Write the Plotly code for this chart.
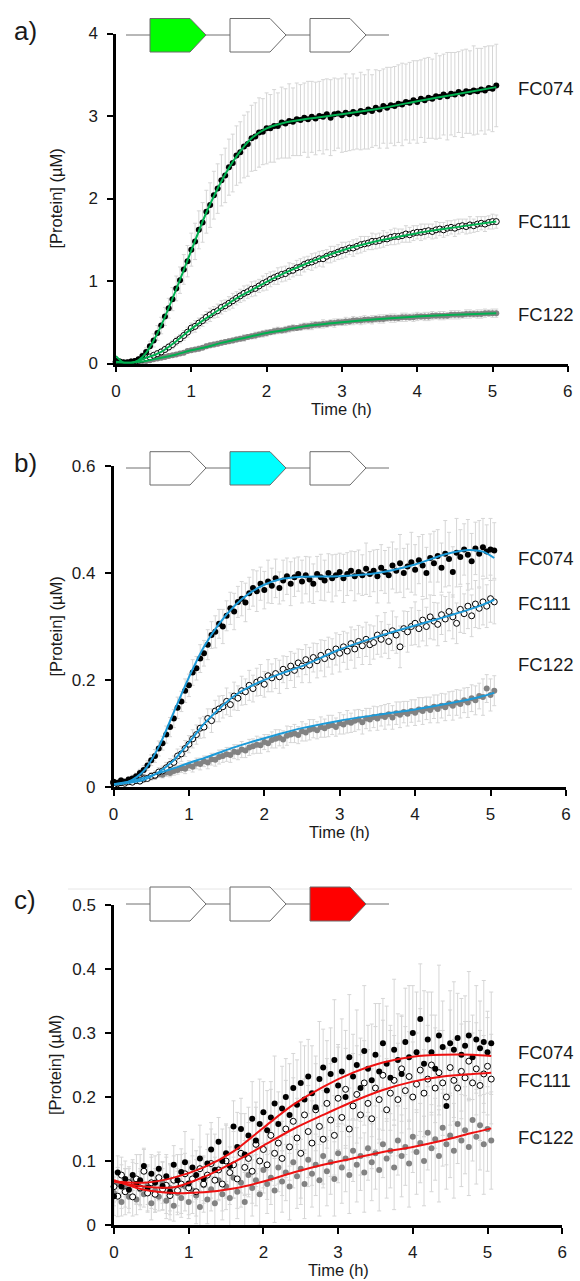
import plotly.graph_objects as go

# ---------------- data ----------------
TIME = [0.00, 0.05, 0.10, 0.15, 0.20, 0.25, 0.30, 0.35, 0.40, 0.45,
        0.50, 0.55, 0.60, 0.65, 0.70, 0.75, 0.80, 0.85, 0.90, 0.95,
        1.00, 1.05, 1.10, 1.15, 1.20, 1.25, 1.30, 1.35, 1.40, 1.45,
        1.50, 1.55, 1.60, 1.65, 1.70, 1.75, 1.80, 1.85, 1.90, 1.95,
        2.00, 2.05, 2.10, 2.15, 2.20, 2.25, 2.30, 2.35, 2.40, 2.45,
        2.50, 2.55, 2.60, 2.65, 2.70, 2.75, 2.80, 2.85, 2.90, 2.95,
        3.00, 3.05, 3.10, 3.15, 3.20, 3.25, 3.30, 3.35, 3.40, 3.45,
        3.50, 3.55, 3.60, 3.65, 3.70, 3.75, 3.80, 3.85, 3.90, 3.95,
        4.00, 4.05, 4.10, 4.15, 4.20, 4.25, 4.30, 4.35, 4.40, 4.45,
        4.50, 4.55, 4.60, 4.65, 4.70, 4.75, 4.80, 4.85, 4.90, 4.95,
        5.00, 5.05]

SERIES = ["FC074", "FC111", "FC122"]

# panel a (green protein)
A_FC074 = [0.03, 0.02, 0.01, 0.01, 0.02, 0.03, 0.05, 0.09, 0.14, 0.21,
           0.28, 0.37, 0.46, 0.57, 0.67, 0.78, 0.91, 1.01, 1.14, 1.24,
           1.38, 1.48, 1.62, 1.71, 1.84, 1.92, 2.04, 2.12, 2.22, 2.28,
           2.38, 2.43, 2.52, 2.56, 2.63, 2.66, 2.73, 2.75, 2.80, 2.81,
           2.85, 2.85, 2.88, 2.88, 2.92, 2.91, 2.94, 2.93, 2.96, 2.95,
           2.98, 2.96, 2.99, 2.97, 3.00, 2.99, 3.02, 2.98, 3.02, 3.03,
           3.01, 3.04, 3.02, 3.05, 3.03, 3.06, 3.05, 3.08, 3.06, 3.10,
           3.08, 3.12, 3.10, 3.13, 3.12, 3.15, 3.14, 3.17, 3.16, 3.19,
           3.17, 3.21, 3.19, 3.22, 3.21, 3.24, 3.23, 3.26, 3.24, 3.27,
           3.26, 3.29, 3.27, 3.30, 3.29, 3.31, 3.30, 3.32, 3.31, 3.34,
           3.33, 3.37]
A_FC111 = [0.02, 0.02, 0.01, 0.01, 0.02, 0.02, 0.04, 0.05, 0.07, 0.08,
           0.10, 0.12, 0.14, 0.17, 0.20, 0.23, 0.27, 0.30, 0.34, 0.38,
           0.43, 0.45, 0.49, 0.52, 0.56, 0.59, 0.62, 0.64, 0.68, 0.70,
           0.73, 0.76, 0.79, 0.82, 0.85, 0.87, 0.90, 0.91, 0.94, 0.97,
           0.99, 1.02, 1.04, 1.06, 1.08, 1.09, 1.12, 1.13, 1.16, 1.17,
           1.20, 1.22, 1.23, 1.25, 1.27, 1.27, 1.30, 1.32, 1.33, 1.35,
           1.37, 1.38, 1.40, 1.40, 1.42, 1.44, 1.45, 1.46, 1.48, 1.48,
           1.49, 1.51, 1.51, 1.53, 1.54, 1.54, 1.55, 1.57, 1.56, 1.58,
           1.59, 1.59, 1.60, 1.61, 1.60, 1.62, 1.63, 1.62, 1.64, 1.65,
           1.64, 1.66, 1.67, 1.66, 1.68, 1.67, 1.69, 1.70, 1.69, 1.71,
           1.72, 1.72]
A_FC122 = [0.01, 0.01, 0.01, 0.01, 0.01, 0.02, 0.02, 0.03, 0.03, 0.04,
           0.05, 0.06, 0.07, 0.08, 0.09, 0.10, 0.11, 0.12, 0.13, 0.15,
           0.16, 0.17, 0.18, 0.19, 0.21, 0.22, 0.23, 0.24, 0.25, 0.26,
           0.27, 0.28, 0.29, 0.30, 0.31, 0.32, 0.33, 0.34, 0.35, 0.36,
           0.37, 0.38, 0.39, 0.40, 0.40, 0.41, 0.42, 0.43, 0.43, 0.44,
           0.45, 0.45, 0.46, 0.47, 0.47, 0.48, 0.48, 0.49, 0.49, 0.50,
           0.50, 0.51, 0.51, 0.52, 0.52, 0.52, 0.53, 0.53, 0.53, 0.54,
           0.54, 0.54, 0.55, 0.55, 0.55, 0.55, 0.56, 0.56, 0.56, 0.56,
           0.57, 0.57, 0.57, 0.57, 0.58, 0.58, 0.58, 0.58, 0.58, 0.59,
           0.59, 0.59, 0.59, 0.60, 0.60, 0.60, 0.60, 0.60, 0.61, 0.61,
           0.61, 0.61]
A_ERR074 = [0.02, 0.02, 0.02, 0.02, 0.02, 0.03, 0.03, 0.04, 0.05, 0.06,
            0.08, 0.09, 0.10, 0.11, 0.12, 0.14, 0.15, 0.16, 0.18, 0.19,
            0.20, 0.22, 0.23, 0.24, 0.26, 0.27, 0.29, 0.30, 0.31, 0.33,
            0.34, 0.35, 0.36, 0.37, 0.38, 0.39, 0.40, 0.41, 0.42, 0.40,
            0.43, 0.41, 0.44, 0.40, 0.43, 0.42, 0.45, 0.41, 0.44, 0.43,
            0.42, 0.46, 0.43, 0.44, 0.42, 0.45, 0.43, 0.46, 0.44, 0.42,
            0.45, 0.47, 0.44, 0.46, 0.43, 0.47, 0.45, 0.48, 0.44, 0.46,
            0.47, 0.45, 0.49, 0.46, 0.48, 0.47, 0.50, 0.46, 0.49, 0.48,
            0.50, 0.47, 0.51, 0.49, 0.48, 0.52, 0.50, 0.49, 0.53, 0.50,
            0.51, 0.49, 0.53, 0.51, 0.50, 0.54, 0.52, 0.50, 0.53, 0.51,
            0.52, 0.50]
A_ERR111 = [0.01, 0.01, 0.01, 0.01, 0.01, 0.01, 0.02, 0.02, 0.02, 0.03,
            0.03, 0.03, 0.04, 0.04, 0.04, 0.05, 0.05, 0.05, 0.06, 0.06,
            0.06, 0.07, 0.06, 0.07, 0.07, 0.08, 0.07, 0.08, 0.08, 0.07,
            0.08, 0.09, 0.08, 0.08, 0.09, 0.08, 0.09, 0.09, 0.08, 0.09,
            0.10, 0.09, 0.08, 0.10, 0.09, 0.09, 0.10, 0.08, 0.09, 0.10,
            0.09, 0.08, 0.10, 0.09, 0.09, 0.10, 0.08, 0.10, 0.09, 0.09,
            0.10, 0.09, 0.08, 0.10, 0.09, 0.10, 0.09, 0.08, 0.10, 0.09,
            0.09, 0.10, 0.08, 0.09, 0.10, 0.09, 0.08, 0.10, 0.09, 0.09,
            0.08, 0.10, 0.09, 0.08, 0.09, 0.10, 0.08, 0.09, 0.09, 0.08,
            0.10, 0.09, 0.08, 0.09, 0.10, 0.08, 0.09, 0.08, 0.09, 0.08,
            0.09, 0.08]
A_ERR122 = [0.01, 0.01, 0.01, 0.01, 0.01, 0.01, 0.01, 0.01, 0.01, 0.01,
            0.01, 0.01, 0.02, 0.02, 0.02, 0.02, 0.02, 0.02, 0.02, 0.02,
            0.02, 0.02, 0.03, 0.02, 0.03, 0.03, 0.03, 0.03, 0.03, 0.03,
            0.03, 0.03, 0.03, 0.03, 0.04, 0.03, 0.03, 0.04, 0.03, 0.04,
            0.04, 0.03, 0.04, 0.04, 0.03, 0.04, 0.04, 0.04, 0.03, 0.04,
            0.04, 0.04, 0.05, 0.04, 0.04, 0.05, 0.04, 0.04, 0.05, 0.04,
            0.04, 0.05, 0.04, 0.05, 0.04, 0.05, 0.05, 0.04, 0.05, 0.04,
            0.05, 0.05, 0.04, 0.05, 0.05, 0.04, 0.05, 0.05, 0.04, 0.05,
            0.05, 0.04, 0.05, 0.05, 0.05, 0.04, 0.05, 0.05, 0.04, 0.05,
            0.05, 0.05, 0.04, 0.05, 0.05, 0.04, 0.05, 0.05, 0.05, 0.04,
            0.05, 0.05]
A_FIT_T = [0, 0.1, 0.2, 0.3, 0.4, 0.5, 0.6, 0.8, 1.0, 1.2, 1.4, 1.6, 1.8,
           2.0, 2.2, 2.5, 3.0, 3.5, 4.0, 4.5, 5.05]
A_FIT074 = [0.09, 0.01, 0.00, 0.04, 0.13, 0.28, 0.46, 0.90, 1.37, 1.83, 2.21,
            2.51, 2.73, 2.85, 2.91, 2.96, 3.02, 3.09, 3.18, 3.26, 3.35]
A_FIT111 = [0.02, 0.01, 0.01, 0.03, 0.07, 0.10, 0.14, 0.27, 0.42, 0.55, 0.67,
            0.79, 0.89, 0.99, 1.08, 1.20, 1.37, 1.49, 1.58, 1.65, 1.72]
A_FIT122 = [0.01, 0.01, 0.01, 0.02, 0.03, 0.05, 0.07, 0.11, 0.16, 0.20, 0.25,
            0.29, 0.33, 0.37, 0.40, 0.45, 0.50, 0.54, 0.57, 0.59, 0.61]

# panel b (cyan protein)
B_FC074 = [0.010, 0.008, 0.012, 0.010, 0.014, 0.016, 0.020, 0.026, 0.032, 0.040,
           0.050, 0.058, 0.072, 0.082, 0.098, 0.112, 0.128, 0.148, 0.160, 0.180,
           0.190, 0.214, 0.222, 0.240, 0.250, 0.266, 0.284, 0.290, 0.305, 0.300,
           0.320, 0.334, 0.328, 0.346, 0.352, 0.345, 0.362, 0.372, 0.366, 0.380,
           0.368, 0.384, 0.376, 0.390, 0.372, 0.386, 0.394, 0.380, 0.392, 0.398,
           0.384, 0.396, 0.388, 0.380, 0.398, 0.392, 0.386, 0.400, 0.390, 0.396,
           0.402, 0.390, 0.398, 0.404, 0.394, 0.402, 0.396, 0.408, 0.398, 0.404,
           0.394, 0.410, 0.402, 0.396, 0.414, 0.404, 0.418, 0.400, 0.412, 0.420,
           0.406, 0.424, 0.414, 0.400, 0.428, 0.418, 0.432, 0.410, 0.436, 0.426,
           0.402, 0.438, 0.430, 0.444, 0.434, 0.422, 0.446, 0.436, 0.448, 0.440,
           0.444, 0.442]
B_FC111 = [0.008, 0.006, 0.008, 0.007, 0.010, 0.009, 0.012, 0.011, 0.015, 0.016,
           0.020, 0.022, 0.028, 0.030, 0.036, 0.042, 0.046, 0.058, 0.062, 0.072,
           0.080, 0.090, 0.098, 0.110, 0.112, 0.128, 0.124, 0.142, 0.146, 0.150,
           0.160, 0.154, 0.170, 0.166, 0.180, 0.178, 0.190, 0.184, 0.196, 0.200,
           0.192, 0.208, 0.204, 0.212, 0.206, 0.220, 0.214, 0.226, 0.218, 0.232,
           0.226, 0.238, 0.228, 0.242, 0.236, 0.246, 0.240, 0.252, 0.244, 0.258,
           0.250, 0.262, 0.254, 0.268, 0.258, 0.272, 0.264, 0.276, 0.266, 0.270,
           0.284, 0.276, 0.288, 0.272, 0.292, 0.284, 0.262, 0.296, 0.290, 0.300,
           0.306, 0.296, 0.312, 0.300, 0.318, 0.310, 0.304, 0.322, 0.314, 0.328,
           0.318, 0.306, 0.332, 0.324, 0.338, 0.320, 0.342, 0.334, 0.346, 0.338,
           0.352, 0.346]
B_FC122 = [0.010, 0.008, 0.012, 0.010, 0.013, 0.011, 0.015, 0.014, 0.018, 0.017,
           0.021, 0.020, 0.024, 0.023, 0.027, 0.026, 0.030, 0.032, 0.035, 0.034,
           0.040, 0.038, 0.044, 0.043, 0.048, 0.046, 0.052, 0.051, 0.056, 0.058,
           0.061, 0.060, 0.066, 0.065, 0.070, 0.068, 0.074, 0.076, 0.079, 0.078,
           0.084, 0.082, 0.088, 0.090, 0.092, 0.089, 0.096, 0.098, 0.100, 0.097,
           0.104, 0.102, 0.107, 0.109, 0.106, 0.112, 0.110, 0.114, 0.116, 0.112,
           0.119, 0.117, 0.122, 0.120, 0.124, 0.126, 0.121, 0.128, 0.126, 0.131,
           0.128, 0.133, 0.131, 0.136, 0.130, 0.138, 0.135, 0.140, 0.137, 0.142,
           0.139, 0.145, 0.142, 0.147, 0.144, 0.150, 0.146, 0.152, 0.149, 0.156,
           0.152, 0.158, 0.155, 0.162, 0.158, 0.166, 0.162, 0.170, 0.168, 0.184,
           0.172, 0.180]
B_ERR074 = [0.004, 0.004, 0.005, 0.005, 0.005, 0.006, 0.006, 0.007, 0.008, 0.009,
            0.010, 0.012, 0.014, 0.013, 0.016, 0.018, 0.017, 0.020, 0.019, 0.022,
            0.021, 0.024, 0.022, 0.026, 0.024, 0.028, 0.025, 0.030, 0.027, 0.032,
            0.028, 0.030, 0.034, 0.029, 0.032, 0.036, 0.030, 0.034, 0.038, 0.031,
            0.035, 0.040, 0.033, 0.036, 0.030, 0.038, 0.034, 0.041, 0.036, 0.032,
            0.040, 0.035, 0.042, 0.037, 0.033, 0.043, 0.038, 0.036, 0.044, 0.039,
            0.035, 0.045, 0.040, 0.037, 0.046, 0.041, 0.038, 0.048, 0.042, 0.039,
            0.050, 0.043, 0.040, 0.052, 0.044, 0.041, 0.054, 0.046, 0.042, 0.056,
            0.047, 0.044, 0.058, 0.048, 0.045, 0.060, 0.049, 0.046, 0.062, 0.050,
            0.047, 0.064, 0.051, 0.048, 0.066, 0.052, 0.049, 0.062, 0.054, 0.050,
            0.058, 0.052]
B_ERR111 = [0.003, 0.003, 0.003, 0.004, 0.004, 0.004, 0.005, 0.005, 0.006, 0.006,
            0.007, 0.008, 0.008, 0.009, 0.010, 0.011, 0.012, 0.013, 0.014, 0.015,
            0.016, 0.017, 0.018, 0.019, 0.020, 0.018, 0.022, 0.020, 0.024, 0.021,
            0.025, 0.022, 0.026, 0.023, 0.027, 0.024, 0.028, 0.025, 0.026, 0.029,
            0.024, 0.030, 0.026, 0.028, 0.031, 0.025, 0.030, 0.027, 0.032, 0.026,
            0.031, 0.028, 0.033, 0.027, 0.032, 0.029, 0.034, 0.028, 0.033, 0.030,
            0.035, 0.029, 0.034, 0.031, 0.036, 0.030, 0.035, 0.032, 0.037, 0.031,
            0.036, 0.033, 0.038, 0.032, 0.037, 0.034, 0.039, 0.033, 0.038, 0.035,
            0.040, 0.034, 0.039, 0.036, 0.041, 0.035, 0.040, 0.037, 0.042, 0.036,
            0.041, 0.038, 0.043, 0.037, 0.042, 0.039, 0.044, 0.038, 0.043, 0.040,
            0.044, 0.041]
B_ERR122 = [0.003, 0.003, 0.003, 0.003, 0.004, 0.004, 0.004, 0.004, 0.005, 0.005,
            0.005, 0.006, 0.006, 0.006, 0.007, 0.007, 0.008, 0.008, 0.008, 0.009,
            0.009, 0.010, 0.010, 0.011, 0.010, 0.012, 0.011, 0.012, 0.013, 0.012,
            0.013, 0.014, 0.013, 0.014, 0.015, 0.013, 0.015, 0.014, 0.016, 0.015,
            0.014, 0.016, 0.015, 0.017, 0.015, 0.016, 0.018, 0.015, 0.017, 0.016,
            0.018, 0.016, 0.019, 0.017, 0.016, 0.019, 0.017, 0.020, 0.018, 0.017,
            0.020, 0.018, 0.021, 0.018, 0.020, 0.019, 0.022, 0.019, 0.021, 0.020,
            0.022, 0.019, 0.023, 0.020, 0.022, 0.021, 0.024, 0.020, 0.023, 0.021,
            0.024, 0.022, 0.025, 0.021, 0.024, 0.022, 0.026, 0.023, 0.025, 0.022,
            0.027, 0.024, 0.026, 0.023, 0.028, 0.025, 0.027, 0.024, 0.034, 0.026,
            0.030, 0.028]
B_FIT_T = [0, 0.2, 0.4, 0.6, 0.8, 1.0, 1.2, 1.4, 1.6, 1.8, 2.0, 2.2, 2.5,
           3.0, 3.5, 4.0, 4.4, 4.7, 4.9, 5.05]
B_FIT074 = [0.004, 0.010, 0.030, 0.075, 0.140, 0.205, 0.262, 0.305, 0.338, 0.362,
            0.378, 0.388, 0.393, 0.394, 0.400, 0.416, 0.435, 0.443, 0.440, 0.428]
B_FIT111 = [0.005, 0.008, 0.013, 0.028, 0.050, 0.083, 0.118, 0.146, 0.170, 0.187,
            0.200, 0.211, 0.226, 0.257, 0.281, 0.302, 0.318, 0.331, 0.341, 0.350]
B_FIT122 = [0.005, 0.010, 0.017, 0.026, 0.035, 0.045, 0.054, 0.064, 0.074, 0.083,
            0.091, 0.099, 0.110, 0.124, 0.135, 0.145, 0.155, 0.163, 0.170, 0.176]

# panel c (red protein)
C_FC074 = [0.045, 0.082, 0.060, 0.072, 0.055, 0.078, 0.064, 0.070, 0.092, 0.058,
           0.080, 0.066, 0.088, 0.061, 0.076, 0.052, 0.094, 0.070, 0.083, 0.098,
           0.065, 0.090, 0.078, 0.104, 0.072, 0.096, 0.118, 0.086, 0.130, 0.100,
           0.112, 0.092, 0.154, 0.122, 0.150, 0.110, 0.140, 0.166, 0.132, 0.158,
           0.176, 0.148, 0.168, 0.190, 0.158, 0.182, 0.200, 0.172, 0.214, 0.188,
           0.222, 0.196, 0.232, 0.206, 0.184, 0.228, 0.246, 0.210, 0.236, 0.258,
           0.218, 0.240, 0.200, 0.262, 0.232, 0.250, 0.214, 0.272, 0.244, 0.226,
           0.266, 0.240, 0.284, 0.252, 0.230, 0.274, 0.258, 0.236, 0.286, 0.262,
           0.300, 0.270, 0.322, 0.252, 0.290, 0.270, 0.244, 0.296, 0.278, 0.186,
           0.284, 0.274, 0.292, 0.266, 0.280, 0.296, 0.262, 0.290, 0.276, 0.286,
           0.270, 0.284]
C_FC111 = [0.060, 0.045, 0.078, 0.052, 0.066, 0.044, 0.072, 0.058, 0.084, 0.050,
           0.066, 0.048, 0.074, 0.056, 0.062, 0.046, 0.070, 0.054, 0.064, 0.080,
           0.058, 0.072, 0.052, 0.088, 0.064, 0.078, 0.096, 0.070, 0.086, 0.064,
           0.100, 0.082, 0.094, 0.072, 0.112, 0.090, 0.104, 0.084, 0.126, 0.100,
           0.118, 0.094, 0.140, 0.112, 0.128, 0.104, 0.150, 0.122, 0.162, 0.136,
           0.112, 0.172, 0.146, 0.128, 0.180, 0.154, 0.134, 0.190, 0.164, 0.140,
           0.198, 0.168, 0.212, 0.150, 0.186, 0.204, 0.172, 0.222, 0.190, 0.166,
           0.214, 0.196, 0.234, 0.180, 0.206, 0.226, 0.196, 0.244, 0.210, 0.232,
           0.200, 0.220, 0.242, 0.206, 0.228, 0.250, 0.214, 0.238, 0.222, 0.200,
           0.246, 0.226, 0.214, 0.240, 0.230, 0.256, 0.222, 0.244, 0.218, 0.236,
           0.248, 0.228]
C_FC122 = [0.050, 0.064, 0.036, 0.058, 0.044, 0.070, 0.040, 0.056, 0.048, 0.062,
           0.034, 0.054, 0.044, 0.066, 0.038, 0.058, 0.030, 0.050, 0.042, 0.060,
           0.036, 0.054, 0.046, 0.028, 0.062, 0.040, 0.056, 0.034, 0.070, 0.048,
           0.060, 0.042, 0.074, 0.052, 0.066, 0.036, 0.078, 0.058, 0.070, 0.048,
           0.086, 0.064, 0.074, 0.054, 0.090, 0.068, 0.082, 0.060, 0.098, 0.076,
           0.088, 0.064, 0.102, 0.080, 0.094, 0.070, 0.108, 0.084, 0.098, 0.072,
           0.112, 0.090, 0.104, 0.078, 0.116, 0.094, 0.108, 0.082, 0.120, 0.098,
           0.112, 0.086, 0.126, 0.104, 0.116, 0.090, 0.132, 0.108, 0.122, 0.096,
           0.138, 0.114, 0.128, 0.100, 0.144, 0.120, 0.134, 0.108, 0.152, 0.126,
           0.140, 0.116, 0.158, 0.132, 0.148, 0.122, 0.164, 0.138, 0.156, 0.126,
           0.150, 0.132]
C_ERR074 = [0.030, 0.026, 0.034, 0.028, 0.036, 0.024, 0.032, 0.040, 0.028, 0.036,
            0.030, 0.042, 0.026, 0.038, 0.034, 0.044, 0.030, 0.040, 0.036, 0.048,
            0.032, 0.044, 0.038, 0.052, 0.034, 0.046, 0.042, 0.056, 0.038, 0.050,
            0.044, 0.060, 0.040, 0.054, 0.048, 0.064, 0.044, 0.058, 0.052, 0.070,
            0.048, 0.062, 0.056, 0.074, 0.050, 0.066, 0.060, 0.080, 0.054, 0.070,
            0.064, 0.084, 0.058, 0.074, 0.068, 0.090, 0.060, 0.078, 0.072, 0.094,
            0.064, 0.082, 0.076, 0.098, 0.066, 0.086, 0.078, 0.102, 0.068, 0.088,
            0.080, 0.106, 0.070, 0.090, 0.082, 0.110, 0.072, 0.092, 0.084, 0.112,
            0.074, 0.094, 0.086, 0.114, 0.074, 0.094, 0.084, 0.110, 0.072, 0.092,
            0.082, 0.106, 0.070, 0.088, 0.078, 0.100, 0.066, 0.084, 0.074, 0.096,
            0.064, 0.080]
C_ERR111 = [0.024, 0.032, 0.028, 0.036, 0.022, 0.030, 0.038, 0.026, 0.034, 0.030,
            0.040, 0.028, 0.036, 0.032, 0.044, 0.030, 0.038, 0.034, 0.046, 0.032,
            0.042, 0.036, 0.050, 0.034, 0.044, 0.040, 0.054, 0.036, 0.048, 0.042,
            0.058, 0.040, 0.052, 0.046, 0.062, 0.042, 0.056, 0.050, 0.066, 0.046,
            0.060, 0.054, 0.072, 0.050, 0.064, 0.058, 0.076, 0.052, 0.068, 0.062,
            0.080, 0.056, 0.072, 0.066, 0.084, 0.060, 0.076, 0.070, 0.088, 0.062,
            0.080, 0.074, 0.092, 0.064, 0.082, 0.076, 0.094, 0.066, 0.084, 0.078,
            0.096, 0.068, 0.086, 0.080, 0.098, 0.070, 0.088, 0.082, 0.100, 0.070,
            0.086, 0.080, 0.096, 0.068, 0.084, 0.078, 0.094, 0.066, 0.082, 0.076,
            0.090, 0.064, 0.080, 0.074, 0.088, 0.062, 0.078, 0.072, 0.086, 0.060,
            0.076, 0.070]
C_ERR122 = [0.020, 0.026, 0.022, 0.030, 0.018, 0.028, 0.024, 0.032, 0.020, 0.030,
            0.026, 0.034, 0.022, 0.032, 0.028, 0.036, 0.024, 0.034, 0.030, 0.038,
            0.026, 0.036, 0.032, 0.040, 0.028, 0.038, 0.034, 0.042, 0.030, 0.040,
            0.036, 0.044, 0.032, 0.042, 0.038, 0.046, 0.034, 0.044, 0.040, 0.048,
            0.036, 0.046, 0.042, 0.050, 0.038, 0.048, 0.044, 0.052, 0.040, 0.050,
            0.046, 0.054, 0.042, 0.052, 0.048, 0.056, 0.044, 0.054, 0.050, 0.058,
            0.046, 0.056, 0.052, 0.060, 0.048, 0.058, 0.054, 0.062, 0.050, 0.060,
            0.056, 0.064, 0.052, 0.062, 0.058, 0.066, 0.054, 0.064, 0.060, 0.068,
            0.056, 0.066, 0.062, 0.070, 0.058, 0.068, 0.064, 0.072, 0.060, 0.070,
            0.066, 0.074, 0.062, 0.072, 0.068, 0.076, 0.064, 0.074, 0.070, 0.078,
            0.066, 0.076]
C_FIT_T = [0, 0.4, 0.8, 1.2, 1.6, 2.0, 2.4, 2.8, 3.2, 3.6, 4.0, 4.4, 4.8, 5.05]
C_FIT074 = [0.068, 0.066, 0.074, 0.090, 0.115, 0.152, 0.188, 0.216, 0.238, 0.254,
            0.263, 0.266, 0.266, 0.264]
C_FIT111 = [0.068, 0.060, 0.059, 0.075, 0.098, 0.124, 0.150, 0.172, 0.193, 0.211,
            0.224, 0.232, 0.236, 0.238]
C_FIT122 = [0.070, 0.055, 0.050, 0.051, 0.057, 0.068, 0.082, 0.094, 0.104, 0.114,
            0.122, 0.132, 0.144, 0.151]

X_TICKS = [0, 1, 2, 3, 4, 5, 6]
A_YTICKS = [0, 1, 2, 3, 4]
A_YTEXT = ["0", "1", "2", "3", "4"]
B_YTICKS = [0, 0.2, 0.4, 0.6]
B_YTEXT = ["0", "0.2", "0.4", "0.6"]
C_YTICKS = [0, 0.1, 0.2, 0.3, 0.4, 0.5]
C_YTEXT = ["0", "0.1", "0.2", "0.3", "0.4", "0.5"]

# ---------------- layout helpers ----------------
W, H = 580, 1281
FONT = "Liberation Sans, Arial, sans-serif"
INK = "#1a1a1a"


def fx(p):
    return p / W


def fy(p):
    return 1 - p / H


PANELS = [
    dict(x0=116, x1=567.8, yb=363.5, yt=33.5, yr=[0, 4], tv=A_YTICKS, tt=A_YTEXT,
         gene=(18.5, 35, 52), fill="#00ff00", color="#00b050",
         label="a)", ly=31, lab_y=[89, 222, 314],
         data=[A_FC074, A_FC111, A_FC122], err=[A_ERR074, A_ERR111, A_ERR122],
         ft=A_FIT_T, fits=[A_FIT074, A_FIT111, A_FIT122], hi=0),
    dict(x0=113.5, x1=565.9, yb=787, yt=466, yr=[0, 0.6], tv=B_YTICKS, tt=B_YTEXT,
         gene=(451.7, 468, 485), fill="#00ffff", color="#1c9ad8",
         label="b)", ly=463, lab_y=[558, 603, 664],
         data=[B_FC074, B_FC111, B_FC122], err=[B_ERR074, B_ERR111, B_ERR122],
         ft=B_FIT_T, fits=[B_FIT074, B_FIT111, B_FIT122], hi=1),
    dict(x0=114, x1=562.2, yb=1225, yt=905, yr=[0, 0.5], tv=C_YTICKS, tt=C_YTEXT,
         gene=(887, 904, 921), fill="#ff0000", color="#ee1111",
         label="c)", ly=900, lab_y=[1052, 1080, 1137],
         data=[C_FC074, C_FC111, C_FC122], err=[C_ERR074, C_ERR111, C_ERR122],
         ft=C_FIT_T, fits=[C_FIT074, C_FIT111, C_FIT122], hi=2),
]

MARKERS = [
    dict(size=6, color="#000000", line=dict(width=0)),
    dict(size=6, color="#ffffff", line=dict(width=1, color="#000000")),
    dict(size=6, color="#828282", line=dict(width=0)),
]

fig = go.Figure()
shapes = []
annotations = []
layout_axes = {}

for k, P in enumerate(PANELS):
    n = "" if k == 0 else str(k + 1)
    xa, ya = "x" + n, "y" + n
    layout_axes["xaxis" + n] = dict(
        domain=[fx(P["x0"]), fx(P["x1"])], anchor=ya, range=[0, 6],
        tickvals=X_TICKS, ticks="outside", ticklen=6, tickwidth=2,
        tickcolor="black", showline=True, linewidth=2.5, linecolor="black",
        showgrid=False, zeroline=False, ticklabelstandoff=4,
        tickfont=dict(family=FONT, size=17, color=INK), automargin=False)
    layout_axes["yaxis" + n] = dict(
        domain=[fy(P["yb"]), fy(P["yt"])], anchor=xa, range=P["yr"],
        tickvals=P["tv"], ticktext=P["tt"], ticks="outside", ticklen=6,
        tickwidth=2, tickcolor="black", showline=True, linewidth=2.5,
        linecolor="black", showgrid=False, zeroline=False, ticklabelstandoff=6,
        tickfont=dict(family=FONT, size=17, color=INK), automargin=False)

    for s in range(3):
        fig.add_trace(go.Scatter(
            x=TIME, y=P["data"][s], mode="markers", xaxis=xa, yaxis=ya,
            marker=dict(size=1, color="rgba(0,0,0,0)"),
            error_y=dict(type="data", array=P["err"][s], color="#d6d6d6",
                         thickness=1, width=2),
            cliponaxis=False, showlegend=False, hoverinfo="skip"))
    for s in [2, 1, 0]:
        fig.add_trace(go.Scatter(
            x=TIME, y=P["data"][s], mode="markers", xaxis=xa, yaxis=ya,
            marker=MARKERS[s], cliponaxis=False, showlegend=False,
            name=SERIES[s]))
    for s in range(3):
        fig.add_trace(go.Scatter(
            x=P["ft"], y=P["fits"][s], mode="lines", xaxis=xa, yaxis=ya,
            line=dict(color=P["color"], width=2, shape="spline", smoothing=0.8),
            showlegend=False, hoverinfo="skip"))

    yt, ym, yb = P["gene"]
    shapes.append(dict(type="line", xref="paper", yref="paper",
                       x0=fx(126), x1=fx(389), y0=fy(ym), y1=fy(ym),
                       line=dict(color="#707070", width=1)))
    for g, gx in enumerate([150, 230, 310]):
        path = "M {a},{t} L {b},{t} L {c},{m} L {b},{bt} L {a},{bt} Z".format(
            a=fx(gx), b=fx(gx + 40), c=fx(gx + 56), t=fy(yt), m=fy(ym), bt=fy(yb))
        shapes.append(dict(type="path", xref="paper", yref="paper", path=path,
                           fillcolor=P["fill"] if g == P["hi"] else "#ffffff",
                           line=dict(color="#6a6a6a", width=1)))

    annotations.append(dict(text=P["label"], x=fx(12), y=fy(P["ly"]),
                            xref="paper", yref="paper", xanchor="left",
                            yanchor="middle", showarrow=False,
                            font=dict(family=FONT, size=26, color=INK)))
    annotations.append(dict(text="[Protein] (µM)", x=fx(55),
                            y=fy((P["yb"] + P["yt"]) / 2), xref="paper",
                            yref="paper", textangle=-90, showarrow=False,
                            xanchor="center", yanchor="middle",
                            font=dict(family=FONT, size=16.5, color=INK)))
    annotations.append(dict(text="Time (h)", x=fx((P["x0"] + P["x1"]) / 2),
                            y=fy(P["yb"] + 45), xref="paper", yref="paper",
                            showarrow=False, xanchor="center", yanchor="middle",
                            font=dict(family=FONT, size=16.5, color=INK)))
    for s in range(3):
        annotations.append(dict(text=SERIES[s], x=fx(516), y=fy(P["lab_y"][s]),
                                xref="paper", yref="paper", xanchor="left",
                                yanchor="middle", showarrow=False,
                                font=dict(family=FONT, size=18.5, color=INK)))

shapes.insert(0, dict(type="line", xref="paper", yref="paper", x0=fx(68),
                      x1=fx(572), y0=fy(889), y1=fy(889),
                      line=dict(color="#e6e6e6", width=1)))

fig.update_layout(
    width=W, height=H, autosize=False,
    margin=dict(l=0, r=0, t=0, b=0, pad=0),
    paper_bgcolor="white", plot_bgcolor="white",
    shapes=shapes, annotations=annotations, showlegend=False,
    font=dict(family=FONT, size=16, color=INK),
    **layout_axes)

fig.write_html("out.html", config={"displayModeBar": False},
               post_script="document.body.style.margin='0px';")
